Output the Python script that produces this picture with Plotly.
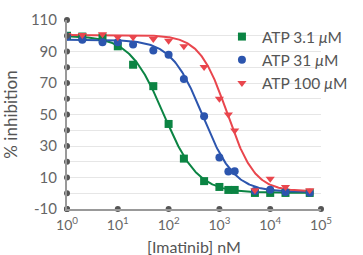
import numpy as np
import plotly.graph_objects as go

conc = [1, 2, 5, 10, 20, 50, 100, 200, 500, 1000, 1500, 2000, 5000, 10000, 20000, 60000]
green = [100, 99.5, 99, 93.3, 81.6, 68, 44, 22, 7.7, 4, 2.1, 2.1, 0.2, 0.2, 0.2, 0.2]
blue = [99.5, 97.5, 95.8, 95.8, 94.4, 90.6, 87.9, 72.5, 48.9, 22.7, 13.8, 13.9, 1.5, 2.3, 0.8, 0.3]
red = [100.5, 100.4, 101, 99, 99, 98, 96.9, 93.3, 80.2, 60, 50, 39.9, 1.9, 9.2, 4, 1.9]

names = ["ATP 3.1 <i>μ</i>M", "ATP 31 <i>μ</i>M", "ATP 100 <i>μ</i>M"]
colors = ["#0b8443", "#2c55ae", "#e9464d"]
symbols = ["square", "circle", "triangle-down"]

# 4PL fit parameters: top, bottom, IC50 (nM), hill
fit_top = [100, 97.5, 100.5]
fit_bottom = [0.3, 0.8, 1.2]
fit_ic50 = [80, 470, 1420]
fit_hill = [1.3, 1.4, 1.6]

x_ticks = [1, 10, 100, 1000, 10000, 100000]
x_ticktext = ["10<sup>0</sup>", "10<sup>1</sup>", "10<sup>2</sup>", "10<sup>3</sup>", "10<sup>4</sup>", "10<sup>5</sup>"]
y_ticks = list(range(-10, 111, 10))
y_ticktext = [str(v) if (v + 10) % 20 == 0 else "" for v in y_ticks]
x_title = "[Imatinib] nM"
y_title = "% inhibition"

font = "Lato, 'Open Sans', sans-serif"
fig = go.Figure()

xs = np.logspace(0, np.log10(60000), 300)
series = [green, blue, red]
for i in range(3):
    yfit = fit_bottom[i] + (fit_top[i] - fit_bottom[i]) / (1 + (xs / fit_ic50[i]) ** fit_hill[i])
    fig.add_trace(go.Scatter(x=xs, y=yfit, mode="lines", line=dict(color=colors[i], width=2),
                             showlegend=False, hoverinfo="skip"))
for i in range(3):
    fig.add_trace(go.Scatter(x=conc, y=series[i], mode="markers", name=names[i],
                             marker=dict(symbol=symbols[i], color=colors[i], size=8)))

# axis tick dots
fig.add_trace(go.Scatter(x=x_ticks, y=[y_ticks[0]] * len(x_ticks), mode="markers",
                         marker=dict(color="#555", size=6), showlegend=False, cliponaxis=False, hoverinfo="skip"))
fig.add_trace(go.Scatter(x=[x_ticks[0]] * len(y_ticks), y=y_ticks, mode="markers",
                         marker=dict(color="#555", size=6), showlegend=False, cliponaxis=False, hoverinfo="skip"))

fig.update_layout(
    width=363, height=255,
    margin=dict(l=67, r=10, t=17, b=46),
    plot_bgcolor="white", paper_bgcolor="white",
    font=dict(family=font, color="#555", size=15),
    legend=dict(x=0.61, y=1.0, xanchor="left", yanchor="top", bgcolor="rgba(0,0,0,0)",
                font=dict(size=15.5, color="#555"), tracegroupgap=0, itemwidth=30),
    xaxis=dict(type="log", range=[0, 5], tickvals=x_ticks, ticktext=x_ticktext,
               showgrid=False, zeroline=False, showline=True, linecolor="#999", linewidth=2,
               ticks="", tickfont=dict(size=14, color="#666"), ticklabelstandoff=2),
    yaxis=dict(range=[-10, 110], tickvals=y_ticks, ticktext=y_ticktext,
               showgrid=True, gridcolor="#e6e6e6", gridwidth=1, zeroline=False,
               showline=True, linecolor="#999", linewidth=2, ticks="",
               tickfont=dict(size=15, color="#666"), ticklabelstandoff=5,
               title=dict(text=y_title, font=dict(size=17, color="#555"), standoff=9)),
    annotations=[dict(text=x_title, xref="paper", yref="paper", x=0.5, y=-0.2,
                      xanchor="center", yanchor="middle", showarrow=False,
                      font=dict(size=16, color="#555"))],
)

fig.write_html("out.html", config={"displayModeBar": False},
               post_script="document.body.style.margin='0';document.body.style.overflow='hidden';")
